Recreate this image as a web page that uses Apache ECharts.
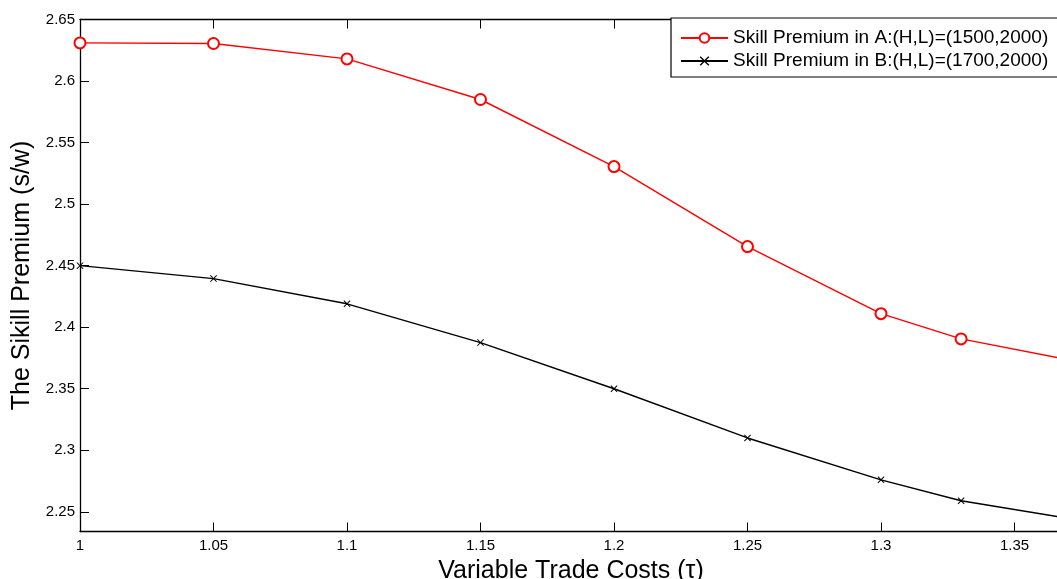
<!DOCTYPE html>
<html><head><meta charset="utf-8">
<script src="https://cdn.jsdelivr.net/npm/echarts@6/dist/echarts.min.js"></script>
<style>html,body{margin:0;padding:0;background:#fff}#c{width:1057px;height:579px}</style>
</head><body><div id="c"></div>
<script>
const tau = [1, 1.05, 1.1, 1.15, 1.2, 1.25, 1.3, 1.33, 1.4];
const premiumA = [2.631, 2.6305, 2.618, 2.585, 2.5305, 2.4655, 2.411, 2.3905, 2.361];
const premiumB = [2.450, 2.4395, 2.419, 2.3875, 2.350, 2.310, 2.276, 2.259, 2.234];
const xTicks = [1, 1.05, 1.1, 1.15, 1.2, 1.25, 1.3, 1.35, 1.4];
const yTicks = [2.25, 2.3, 2.35, 2.4, 2.45, 2.5, 2.55, 2.6, 2.65];
const nameA = 'Skill Premium in A:(H,L)=(1500,2000)';
const nameB = 'Skill Premium in B:(H,L)=(1700,2000)';

const font = 'Liberation Sans, Arial, Helvetica, sans-serif';
const crossPath = 'path://M0,1L1,0L5,4L9,0L10,1L6,5L10,9L9,10L5,6L1,10L0,9L4,5Z';
const chart = echarts.init(document.getElementById('c'), null, {renderer: 'canvas'});
const axisLine = {show: true, lineStyle: {color: '#000', width: 1.3}};
chart.setOption({
  animation: false,
  backgroundColor: '#fff',
  grid: {left: 80, top: 19.5, width: 1068, height: 512, containLabel: false, outerBoundsMode: 'none'},
  legend: {
    orient: 'vertical', left: 671, top: 18,
    padding: [10, 60, 6, 9], itemGap: 3,
    itemWidth: 47, itemHeight: 12,
    borderColor: '#000', borderWidth: 1.2, borderRadius: 0,
    backgroundColor: '#fff',
    textStyle: {fontFamily: font, fontSize: 19, lineHeight: 20, color: '#000'},
    data: [nameA, nameB]
  },
  xAxis: [{
    type: 'value', min: 1, max: 1.4,
    name: 'Variable Trade Costs (τ)', nameLocation: 'middle', nameGap: 24,
    nameTextStyle: {fontFamily: font, fontSize: 25, color: '#000', padding: [0, 86, 0, 0]},
    axisLine: axisLine,
    axisTick: {show: true, inside: true, length: 9, lineStyle: {color: '#000', width: 1}, customValues: xTicks},
    axisLabel: {fontFamily: font, fontSize: 15, color: '#000', margin: 7, customValues: xTicks,
      formatter: v => String(+v.toFixed(2))},
    splitLine: {show: false}
  }, {
    type: 'value', min: 1, max: 1.4, position: 'top',
    axisLine: axisLine,
    axisTick: {show: true, inside: true, length: 9, lineStyle: {color: '#000', width: 1}, customValues: xTicks},
    axisLabel: {show: false}, splitLine: {show: false}
  }],
  yAxis: [{
    type: 'value', min: 2.234, max: 2.65,
    name: 'The Sikill Premium (s/w)', nameLocation: 'middle', nameGap: 45,
    nameTextStyle: {fontFamily: font, fontSize: 25, color: '#000'},
    axisLine: axisLine,
    axisTick: {show: true, inside: true, length: 9, lineStyle: {color: '#000', width: 1}, customValues: yTicks},
    axisLabel: {fontFamily: font, fontSize: 15, color: '#000', margin: 5, customValues: yTicks,
      formatter: v => String(+v.toFixed(2))},
    splitLine: {show: false}
  }],
  series: [{
    name: nameA, type: 'line', xAxisIndex: 0,
    data: tau.map((t, i) => [t, premiumA[i]]),
    clip: true,
    symbol: 'emptyCircle', symbolSize: 11,
    itemStyle: {color: '#ff0000', borderColor: '#ff0000', borderWidth: 1.5},
    lineStyle: {color: '#ff0000', width: 1.4}
  }, {
    name: nameB, type: 'line', xAxisIndex: 0,
    data: tau.map((t, i) => [t, premiumB[i]]),
    clip: true,
    symbol: crossPath, symbolSize: 7,
    itemStyle: {color: '#000'},
    lineStyle: {color: '#000', width: 1.4}
  }]
});
</script></body></html>
